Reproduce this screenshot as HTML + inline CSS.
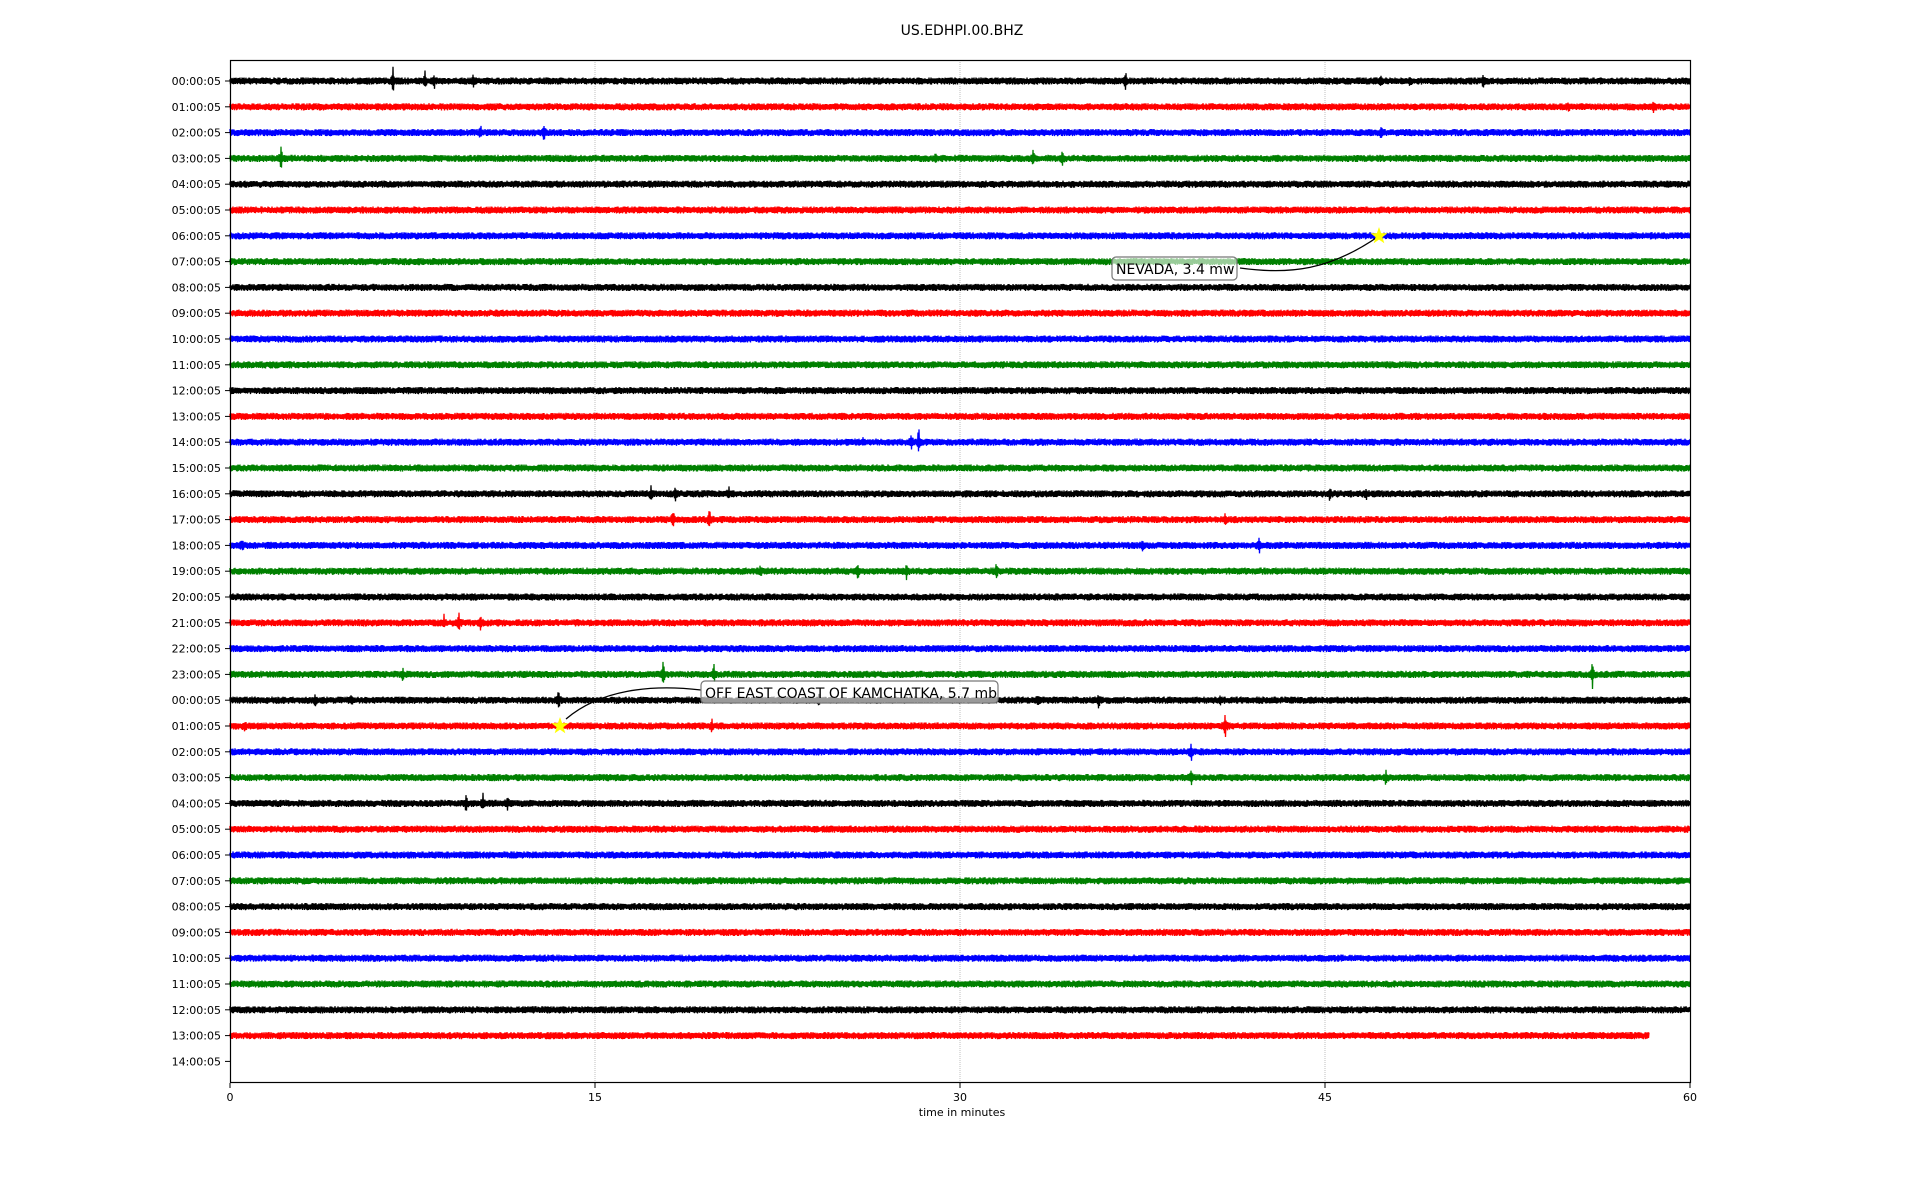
<!DOCTYPE html>
<html><head><meta charset="utf-8"><style>
html,body{margin:0;padding:0;background:#fff;width:1920px;height:1200px;overflow:hidden}
svg text{font-family:"DejaVu Sans","Liberation Sans",sans-serif}
</style></head><body>
<svg id="s" width="1920" height="1200" xmlns="http://www.w3.org/2000/svg">
<rect width="1920" height="1200" fill="#fff"/>
<text x="962" y="35" font-size="14" text-anchor="middle">US.EDHPI.00.BHZ</text>
<g stroke="#b0b0b0" stroke-width="0.8" stroke-dasharray="1,1">
<line x1="595" y1="60" x2="595" y2="1083"/><line x1="960" y1="60" x2="960" y2="1083"/><line x1="1325" y1="60" x2="1325" y2="1083"/>
</g>
<g id="tr"></g>
<g id="ax"></g>
<rect x="230.5" y="60.5" width="1460" height="1022" fill="none" stroke="#000" stroke-width="1.2"/>
<path d="M1379 236 C1330 270 1290 275 1240 268" fill="none" stroke="#000" stroke-width="1.3"/>
<rect x="1112" y="257" width="125" height="23" rx="4" fill="#fff" fill-opacity="0.6" stroke="#777" stroke-width="1.2"/>
<text x="1116" y="274" font-size="14">NEVADA, 3.4 mw</text>
<path d="M566 719 C600 690 650 684 701 690" fill="none" stroke="#000" stroke-width="1.3"/>
<rect x="701" y="681" width="297" height="22" rx="4" fill="#fff" fill-opacity="0.6" stroke="#777" stroke-width="1.2"/>
<text x="705" y="698" font-size="14">OFF EAST COAST OF KAMCHATKA, 5.7 mb</text>
<polygon id="st1" fill="#ff0" points=""/>
<polygon id="st2" fill="#ff0" points=""/>
<text x="962" y="1116" font-size="11" text-anchor="middle">time in minutes</text>
</svg>
<script>
var seed=7;function r(){seed=(seed*16807)%2147483647;return seed/2147483647;}
var cols=["#000","#f00","#00f","#008000"];
var tr=document.getElementById("tr"),ax=document.getElementById("ax");
var x0=230,W=1460,y0=81,dy=25.8;
var labels=[];for(var i=0;i<24;i++)labels.push(i);for(var i=0;i<15;i++)labels.push(i);
function X(m){return x0+m*W/60;}
var ev={0:[[6.7,14],[8,12],[8.4,6],[10,5],[36.8,13],[47.3,6],[48.5,5],[51.5,7]],1:[[55,5],[58.5,5]],2:[[10.3,6],[12.9,10],[47.3,6]],3:[[2.1,12],[29,4],[33,8],[34.2,7]],
14:[[26,5],[28,8],[28.3,16]],16:[[17.3,7],[18.3,6],[20.5,5],[45.2,8],[46.7,4]],17:[[18.2,12],[19.7,14],[40.9,4]],18:[[0.5,6],[37.5,6],[42.3,8]],19:[[21.8,7],[25.8,10],[27.8,8],[31.5,10]],
21:[[8.8,8],[9.4,12],[10.3,8]],23:[[7.1,8],[17.8,13],[19.9,13],[56,18]],24:[[3.5,6],[5,5],[13.5,11],[24.2,4],[33.2,5],[35.7,7],[40.7,4]],25:[[0.6,7],[19.8,6],[40.9,12]],26:[[39.5,10]],27:[[39.5,10],[47.5,8]],28:[[9.7,10],[10.4,8],[11.4,6]]};
var H='';
for(var k=0;k<39;k++){
  var y=y0+k*dy;
  H+='<line x1="225" y1="'+y+'" x2="230" y2="'+y+'" stroke="#000"/>';
  var l=labels[k];var s=(l<10?"0":"")+l+":00:05";
  H+='<text x="221" y="'+(y+4)+'" font-size="11" text-anchor="end">'+s+'</text>';
  if(k>=38)continue;
  var end=(k==37)?58.3:60;
  var n=Math.round(X(end)-x0)*2;
  var e=ev[k]||[];
  var d="M"+x0+" "+y;
  for(var j=0;j<=n;j++){
    var x=x0+j/2,m=(x-x0)*60/W;
    var a=3.0*(0.6+0.6*r());
    for(var q=0;q<e.length;q++){var dd=Math.abs(m-e[q][0]);if(dd<0.25)a+=e[q][1]*Math.exp(-dd*30)*(0.3+0.7*r());}
    d+="L"+x.toFixed(1)+" "+(y+(j%2?a:-a)).toFixed(1);
  }
  tr.insertAdjacentHTML("beforeend",'<path d="'+d+'" fill="none" stroke="'+cols[k%4]+'" stroke-width="1.3"/>');
}
var t=[0,15,30,45,60];
for(var i=0;i<5;i++){var x=X(t[i]);H+='<line x1="'+x+'" y1="1083" x2="'+x+'" y2="1088" stroke="#000"/><text x="'+x+'" y="1101" font-size="11" text-anchor="middle">'+t[i]+'</text>';}
ax.innerHTML=H;
function star(id,cx,cy,R){var p=[];for(var i=0;i<10;i++){var a=-Math.PI/2+i*Math.PI/5,rr=i%2?R*0.4:R;p.push((cx+rr*Math.cos(a)).toFixed(1)+","+(cy+rr*Math.sin(a)).toFixed(1));}document.getElementById(id).setAttribute("points",p.join(" "));}
star("st1",1379,236,9);star("st2",560,726,9);
</script>
</body></html>
